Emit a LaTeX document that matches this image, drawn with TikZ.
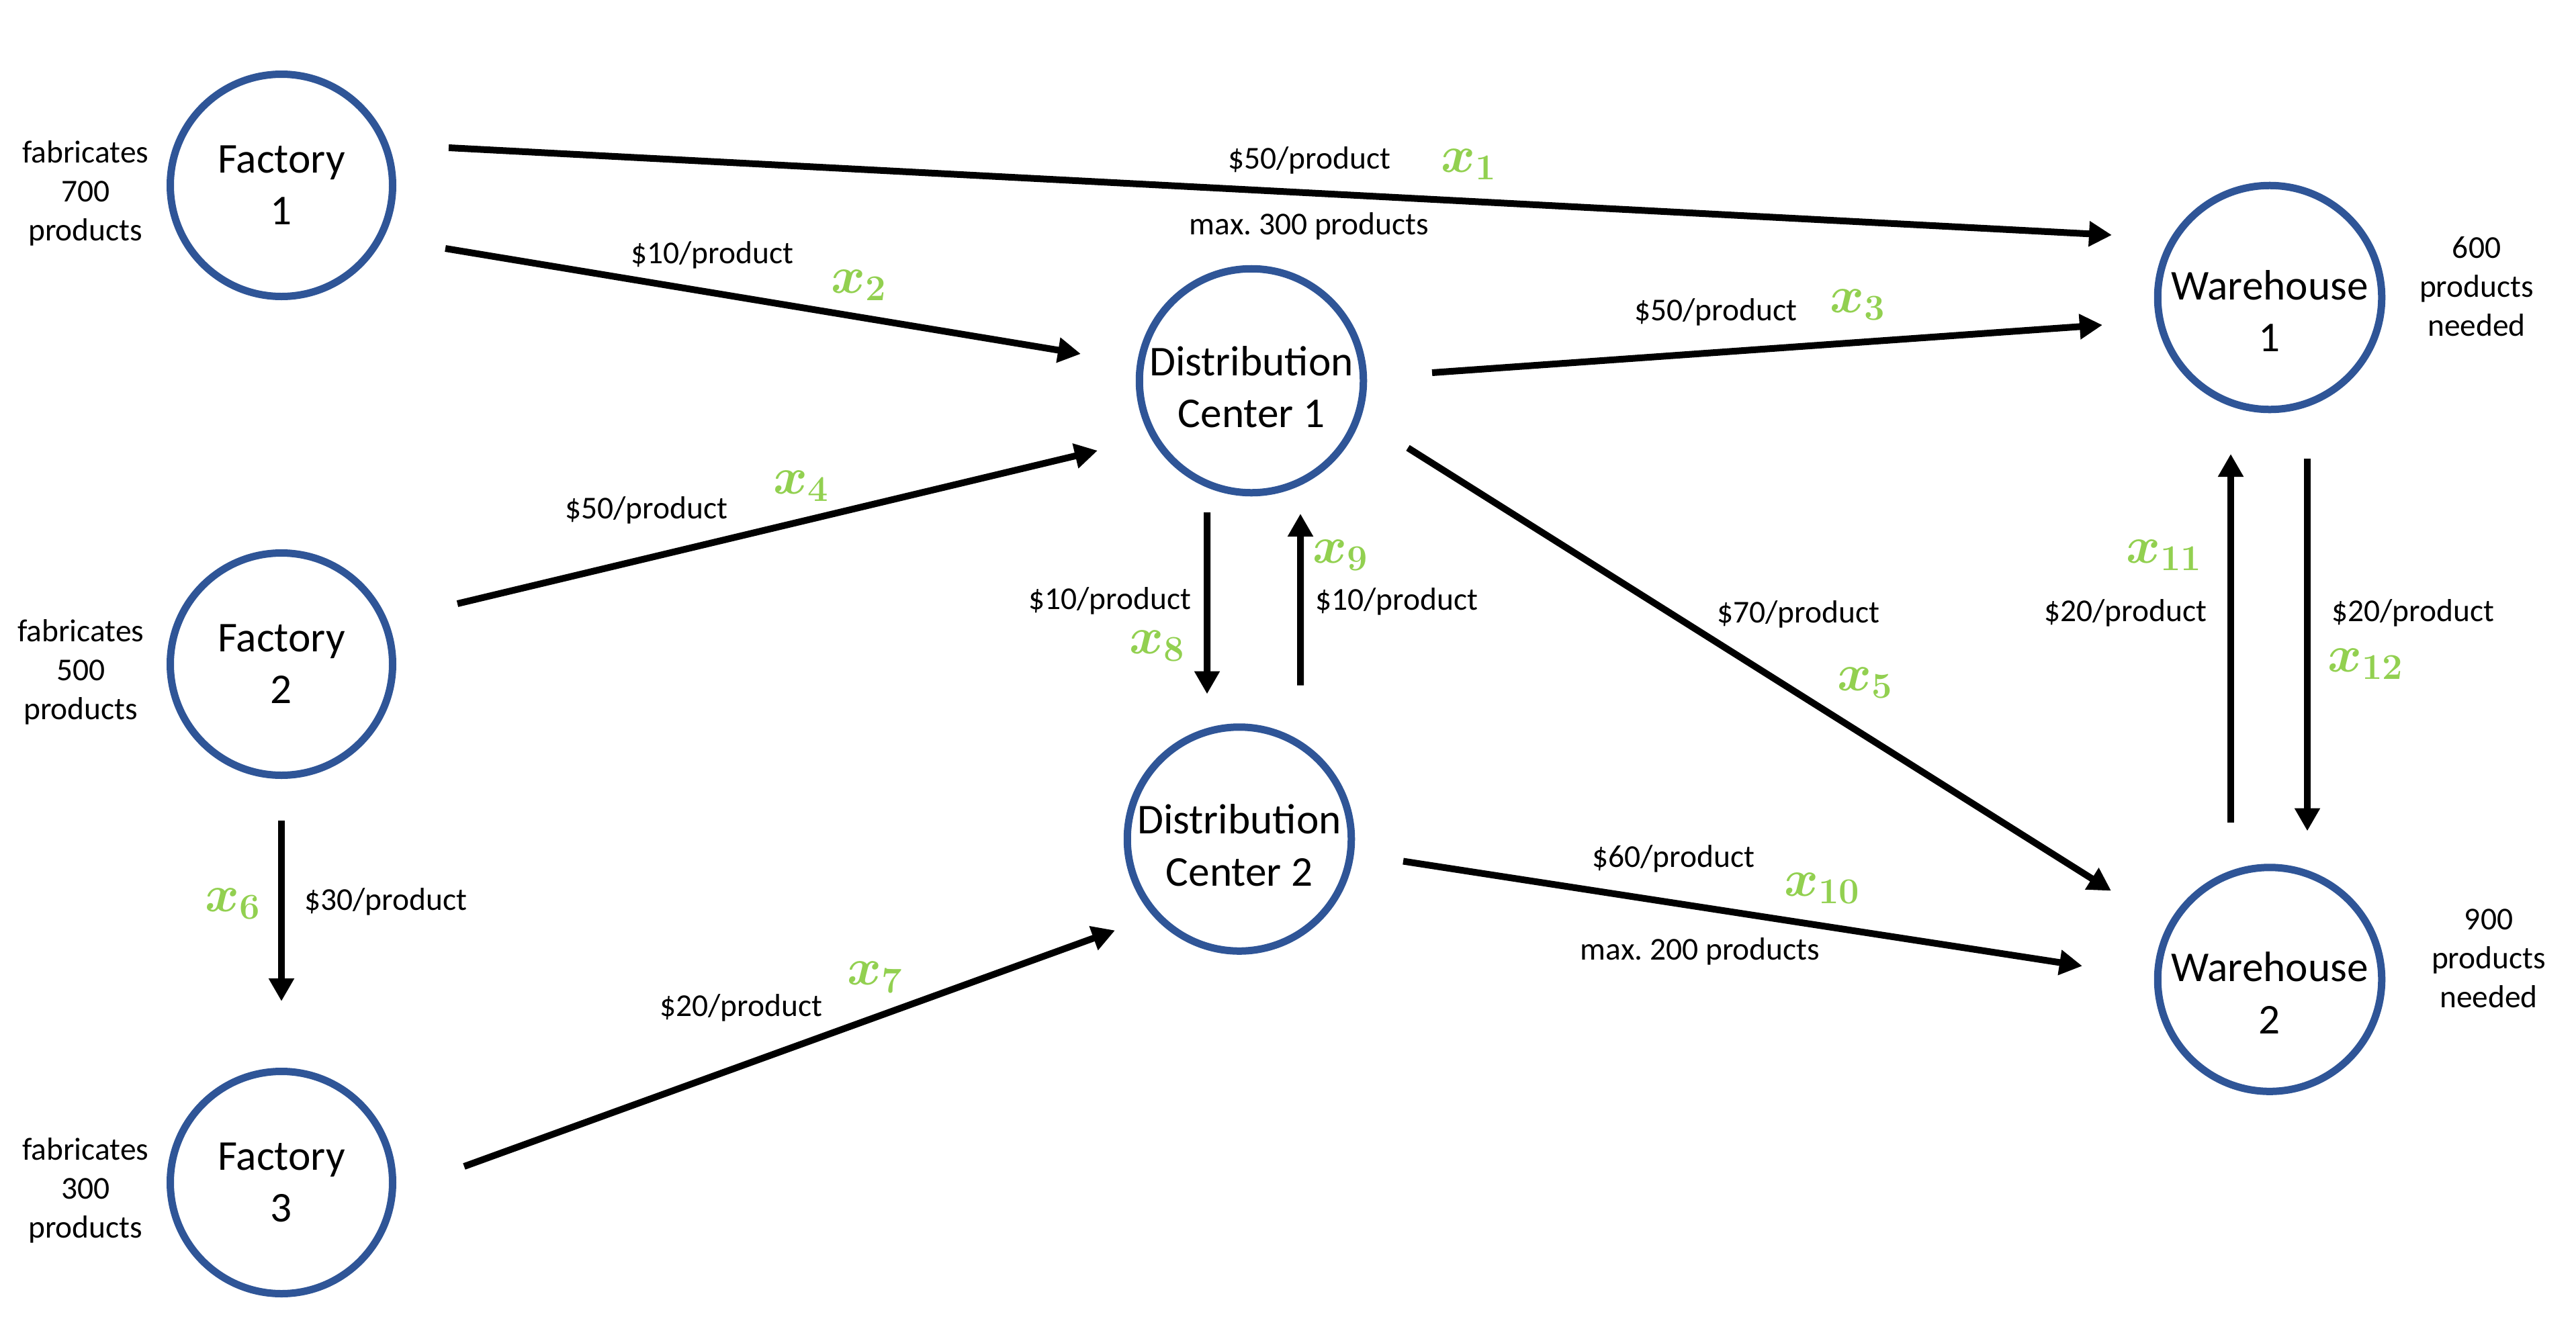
\RequirePackage{fix-cm}
\documentclass[tikz,border=0pt]{standalone}
\usepackage{fontspec}
\setmainfont{Carlito}
\usepackage{xcolor}
\usepackage{tikz}
\usetikzlibrary{positioning, calc, arrows.meta}
\definecolor{siteblue}{RGB}{47, 85, 151}
\definecolor{flowgreen}{RGB}{146, 208, 80}
\newcommand{\dropby}[1]{\rule{0pt}{\dimexpr\fontcharht\font`h+#1\relax}}

\begin{document}
\begin{tikzpicture}[
			node distance=0.4cm,
			site/.style={circle, draw=siteblue, line width=0.11cm, minimum size=3.31cm, inner sep=0pt, align=center, font=\fontsize{18}{22}\selectfont},
			info/.style={inner sep=0pt, align=center, font=\fontsize{13.5}{16.5}\selectfont},
			flow/.style={inner sep=0pt, text=flowgreen, font=\fontsize{22}{26}\selectfont\boldmath},
			arrow/.style={line width=0.1cm, -{Triangle[length=0.34cm, width=0.36cm]}}
		]
		\useasboundingbox (0,0) rectangle (38.35,-19.97);

		\node (fact1) [site] at (4.19,-2.76) {Factory\\1};
		\node (fact2) [site, below=3.71cm of fact1] {Factory\\2};
		\node (fact3) [site, below=4.30cm of fact2] {Factory\\3};

		\node (dist1) [site] at (18.63,-5.67) {\dropby{5.2pt}Distribution\\Center 1};
		\node (dist2) [site, below=3.38cm of dist1, xshift=-0.18cm] {\dropby{5.2pt}Distribution\\Center 2};

		\node (ware1) [site] at (33.79,-4.43) {\dropby{11.4pt}Warehouse\\1};
		\node (ware2) [site, below=6.71cm of ware1] {\dropby{11.4pt}Warehouse\\2};

		\node (supply1) [info, left=0.26cm of fact1, yshift=-0.12cm] {fabricates\\700\\products};
		\node (supply2) [info, left=0.33cm of fact2, yshift=-0.12cm] {fabricates\\500\\products};
		\node (supply3) [info, left=0.26cm of fact3, yshift=-0.12cm] {fabricates\\300\\products};
		\node (demand1) [info, right=0.50cm of ware1, yshift=0.16cm] {600\\products\\needed};
		\node (demand2) [info, right=0.68cm of ware2, yshift=0.31cm] {900\\products\\needed};

		\draw[arrow] ($(fact1)+(2.49,0.56)$) -- ($(ware1)+(-2.35,0.93)$);
		\draw[arrow] ($(fact1)+(2.44,-0.94)$) -- ($(dist1)+(-2.54,0.40)$);
		\draw[arrow] ($(dist1)+(2.69,0.12)$) -- ($(ware1)+(-2.49,-0.41)$);
		\draw[arrow] ($(fact2)+(2.62,0.90)$) -- ($(dist1)+(-2.29,-1.04)$);
		\draw[arrow] ($(dist1)+(2.33,-1.00)$) -- ($(ware2)+(-2.36,1.32)$);
		\draw[arrow] ($(fact2)+(0,-2.33)$) -- ($(fact3)+(0,2.70)$);
		\draw[arrow] ($(fact3)+(2.72,0.24)$) -- ($(dist2)+(-1.85,-1.36)$);
		\draw[arrow] ($(dist1)+(-0.66,-1.96)$) -- ($(dist2)+(-0.48,2.16)$);
		\draw[arrow] ($(dist2)+(0.91,2.29)$) -- ($(dist1)+(0.73,-1.98)$);
		\draw[arrow] ($(dist2)+(2.44,-0.33)$) -- ($(ware2)+(-2.79,0.20)$);
		\draw[arrow] ($(ware2)+(-0.58,2.34)$) -- ($(ware1)+(-0.58,-2.33)$);
		\draw[arrow] ($(ware1)+(0.56,-2.40)$) -- ($(ware2)+(0.56,2.21)$);

		\node (cost1) [info] at (19.49,-2.39) {\$50/product};
		\node (limit1) [info] at (19.49,-3.37) {max.\ 300 products};
		\node (cost2) [info] at (10.60,-3.80) {\$10/product};
		\node (cost3) [info] at (25.54,-4.65) {\$50/product};
		\node (cost4) [info] at (9.62,-7.60) {\$50/product};
		\node (cost5) [info] at (26.77,-9.15) {\$70/product};
		\node (cost6) [info] at (5.74,-13.43) {\$30/product};
		\node (cost7) [info] at (11.03,-15.01) {\$20/product};
		\node (cost8) [info] at (16.52,-8.95) {\$10/product};
		\node (cost9) [info] at (20.79,-8.96) {\$10/product};
		\node (cost10) [info] at (24.91,-12.79) {\$60/product};
		\node (limit10) [info] at (25.31,-14.17) {max.\ 200 products};
		\node (cost11) [info] at (31.64,-9.13) {\$20/product};
		\node (cost12) [info] at (35.92,-9.13) {\$20/product};

		\node (var1) [flow] at (21.87,-2.45) {$x_{1}$};
		\node (var2) [flow] at (12.79,-4.25) {$x_{2}$};
		\node (var3) [flow] at (27.66,-4.54) {$x_{3}$};
		\node (var4) [flow] at (11.93,-7.24) {$x_{4}$};
		\node (var5) [flow] at (27.77,-10.17) {$x_{5}$};
		\node (var6) [flow] at (3.47,-13.46) {$x_{6}$};
		\node (var7) [flow] at (13.03,-14.55) {$x_{7}$};
		\node (var8) [flow] at (17.23,-9.62) {$x_{8}$};
		\node (var9) [flow] at (19.96,-8.27) {$x_{9}$};
		\node (var10) [flow] at (27.13,-13.23) {$x_{10}$};
		\node (var11) [flow] at (32.22,-8.27) {$x_{11}$};
		\node (var12) [flow] at (35.22,-9.89) {$x_{12}$};

	\end{tikzpicture}
\end{document}
